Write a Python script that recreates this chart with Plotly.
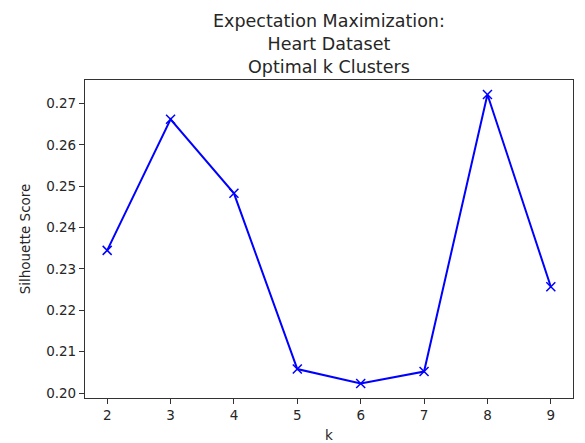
import plotly.graph_objects as go

k_values = [2, 3, 4, 5, 6, 7, 8, 9]
silhouette = [0.2345, 0.2662, 0.2483, 0.2058, 0.2023, 0.2052, 0.2722, 0.2257]
x_ticks = [2, 3, 4, 5, 6, 7, 8, 9]
y_ticks = [0.20, 0.21, 0.22, 0.23, 0.24, 0.25, 0.26, 0.27]
title_lines = ["Expectation Maximization:", "Heart Dataset", "Optimal k Clusters"]

font_family = "DejaVu Sans"
text_color = "#262626"

fig = go.Figure()
fig.add_trace(go.Scatter(
    x=k_values, y=silhouette, mode="lines+markers",
    line=dict(color="#0000ff", width=2),
    marker=dict(symbol="x-thin", size=9, color="#0000ff",
                line=dict(color="#0000ff", width=1.5)),
    showlegend=False,
))

axis_common = dict(
    showline=True, mirror=True, linecolor="#333333", linewidth=1.2,
    ticks="outside", ticklen=5, tickwidth=1, tickcolor="#333333",
    showgrid=False, zeroline=False, automargin=False,
    tickfont=dict(family=font_family, size=13.5, color=text_color),
)

fig.add_annotation(
    text="<br>".join(title_lines),
    xref="paper", yref="paper", x=0.5, y=1,
    xanchor="center", yanchor="bottom", yshift=1,
    showarrow=False, align="center",
    font=dict(family=font_family, size=17.5, color=text_color),
)

fig.update_layout(
    width=585, height=443,
    margin=dict(l=85, r=12, t=80, b=45),
    paper_bgcolor="white", plot_bgcolor="white",
    font=dict(family=font_family, color=text_color),
    xaxis=dict(
        range=[1.65, 9.35], tickvals=x_ticks,
        ticktext=[str(v) for v in x_ticks],
        title=dict(text="k", standoff=11,
                   font=dict(family=font_family, size=13.5, color=text_color)),
        **axis_common,
    ),
    yaxis=dict(
        range=[0.1988, 0.2757], tickvals=y_ticks,
        ticktext=[f"{v:.2f}" for v in y_ticks],
        title=dict(text="Silhouette Score", standoff=12,
                   font=dict(family=font_family, size=13.5, color=text_color)),
        **axis_common,
    ),
)

fig.write_html(
    "out.html",
    config={"displayModeBar": False},
    post_script="document.body.style.margin='0';document.body.style.padding='0';",
)
